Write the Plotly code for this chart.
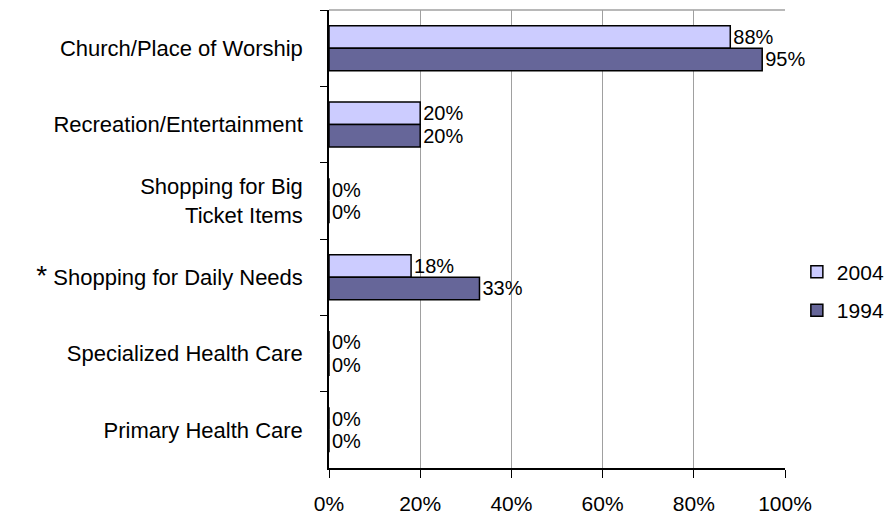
import plotly.graph_objects as go

categories = [
    "Church/Place of Worship",
    "Recreation/Entertainment",
    "Shopping for Big<br>Ticket Items",
    "<span style='font-size:28px'>*</span> Shopping for Daily Needs",
    "Specialized Health Care",
    "Primary Health Care",
]
values_2004 = [88, 20, 0, 18, 0, 0]
values_1994 = [95, 20, 0, 33, 0, 0]
x_ticks = [0, 20, 40, 60, 80, 100]
x_tick_labels = ["0%", "20%", "40%", "60%", "80%", "100%"]

FONT = "Liberation Sans, Arial, sans-serif"

fig = go.Figure()
fig.add_trace(go.Bar(
    y=categories, x=values_2004, name="2004", orientation="h",
    marker=dict(color="#CCCCFF", line=dict(color="black", width=1.5)),
    text=[f"{v}%" for v in values_2004], textposition="outside",
    textfont=dict(size=20, color="black", family=FONT),
    cliponaxis=False, legendgroup="a",
))
fig.add_trace(go.Bar(
    y=categories, x=values_1994, name="1994", orientation="h",
    marker=dict(color="#666699", line=dict(color="black", width=1.5)),
    text=[f"{v}%" for v in values_1994], textposition="outside",
    textfont=dict(size=20, color="black", family=FONT),
    cliponaxis=False, legendgroup="b",
))

# page body has an 8px margin, so the figure is shrunk/shifted to compensate
fig.update_layout(
    width=885, height=509,
    margin=dict(l=321, r=108, t=2, b=49, autoexpand=False),
    paper_bgcolor="white", plot_bgcolor="white",
    barmode="group", bargap=0.41, bargroupgap=0,
    font=dict(family=FONT, size=21, color="black"),
    showlegend=True,
    legend=dict(
        x=1.026, xanchor="left", y=0.386, yanchor="middle",
        font=dict(size=21, family=FONT),
        traceorder="grouped", tracegroupgap=8,
        bgcolor="rgba(0,0,0,0)",
    ),
    xaxis=dict(
        range=[0, 100], tickvals=x_ticks, ticktext=x_tick_labels,
        showgrid=True, gridcolor="#A0A0A0", gridwidth=1,
        showline=True, linecolor="black", linewidth=1.5,
        ticks="outside", ticklen=8, tickcolor="black", tickwidth=1,
        zeroline=False, ticklabelstandoff=8, automargin=False,
        tickfont=dict(size=21, family=FONT),
    ),
    yaxis=dict(
        autorange="reversed", type="category",
        showline=True, linecolor="black", linewidth=1.5,
        ticks="outside", ticklen=7, tickcolor="black", tickwidth=1,
        tickson="boundaries", showgrid=False, automargin=False,
        ticklabelstandoff=20,
        tickfont=dict(size=22, family=FONT),
    ),
    shapes=[dict(type="line", xref="paper", yref="paper", x0=0, x1=1, y0=1, y1=1,
                 line=dict(color="#A0A0A0", width=1.5))],
)

fig.write_html("out.html")
